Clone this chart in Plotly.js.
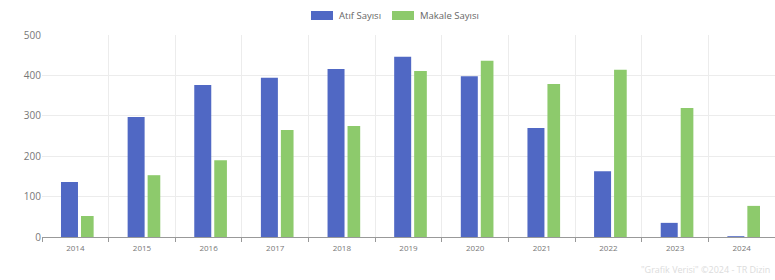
<!DOCTYPE html>
<html><head><meta charset="utf-8">
<script src="https://cdn.plot.ly/plotly-3.0.1.min.js"></script>
<style>html,body{margin:0;padding:0;background:#fff;overflow:hidden}#chart{width:775px;height:280px}</style>
</head><body><div id="chart"></div>
<script>
const years = ['2014','2015','2016','2017','2018','2019','2020','2021','2022','2023','2024'];
const atifSayisi = [136, 297, 376, 394, 416, 446, 398, 270, 163, 35, 2];
const makaleSayisi = [52, 153, 190, 265, 275, 411, 436, 379, 414, 319, 77];
const seriesNames = ['Atıf Sayısı', 'Makale Sayısı'];
const colors = ['#5068c4', '#8dca6c'];

const traces = [
  {type:'bar', x: years, y: atifSayisi, name: seriesNames[0], marker:{color: colors[0]},
   width: 0.255, offset: -0.215, showlegend:false, hoverinfo:'x+y'},
  {type:'bar', x: years, y: makaleSayisi, name: seriesNames[1], marker:{color: colors[1]},
   width: 0.19, offset: 0.085, showlegend:false, hoverinfo:'x+y'}
];

const layout = {
  width: 775, height: 280,
  margin: {l: 42, r: 0, t: 35, b: 43},
  paper_bgcolor: '#ffffff', plot_bgcolor: '#ffffff',
  barmode: 'overlay',
  font: {family: 'Open Sans, Roboto, sans-serif', color: '#777'},
  xaxis: {type: 'category', tickson: 'boundaries', ticks: 'outside', ticklen: 4, tickcolor: '#999',
    showgrid: true, gridcolor: '#ececec', showline: true, linecolor: '#999', linewidth: 1,
    ticklabelstandoff: 3,
    tickfont: {size: 8, color: '#777'}, fixedrange: true},
  yaxis: {range: [0, 500], dtick: 100, showgrid: true, gridcolor: '#ececec', zeroline: false,
    showline: false, ticks: '', tickfont: {size: 10, color: '#777'}, fixedrange: true},
  shapes: [
    {type:'rect', xref:'paper', yref:'paper', x0:(311-42)/733, x1:(333-42)/733, y0:1+(35-20)/202, y1:1+(35-11)/202,
     fillcolor: colors[0], line:{width:0}},
    {type:'rect', xref:'paper', yref:'paper', x0:(392-42)/733, x1:(414-42)/733, y0:1+(35-20)/202, y1:1+(35-11)/202,
     fillcolor: colors[1], line:{width:0}}
  ],
  annotations: [
    {xref:'paper', yref:'paper', x:(337-42)/733, y:1+(35-15.5)/202, xanchor:'left', yanchor:'middle',
     text: seriesNames[0], showarrow:false, font:{size:9.5, color:'#666'}},
    {xref:'paper', yref:'paper', x:(418-42)/733, y:1+(35-15.5)/202, xanchor:'left', yanchor:'middle',
     text: seriesNames[1], showarrow:false, font:{size:9.5, color:'#666'}},
    {xref:'paper', yref:'paper', x:(772-42)/733, y:-(269-237)/202, xanchor:'right', yanchor:'middle',
     text: '"Grafik Verisi" ©2024 - TR Dizin', showarrow:false, font:{size:9, color:'#dcdcdc'}}
  ]
};

Plotly.newPlot('chart', traces, layout, {displayModeBar:false, staticPlot:true});
</script></body></html>
